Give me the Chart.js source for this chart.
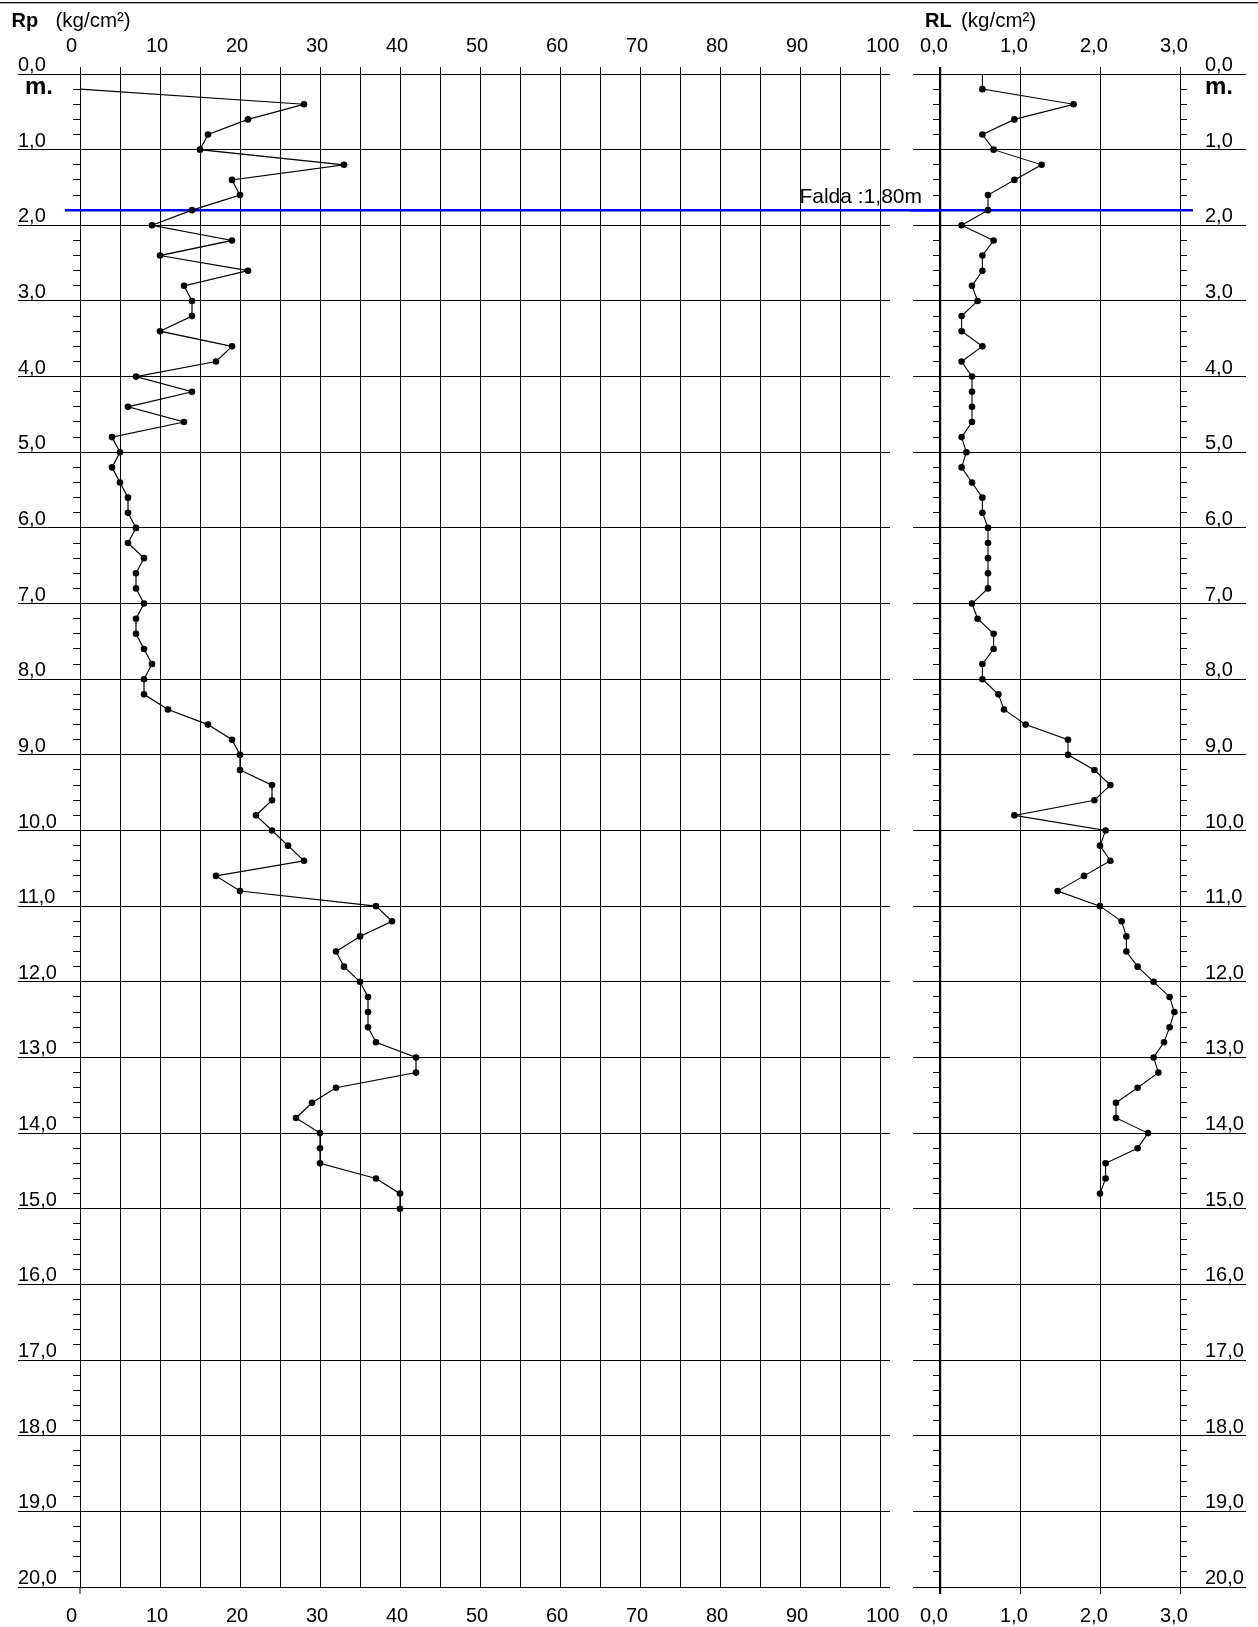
<!DOCTYPE html>
<html>
<head>
<meta charset="utf-8">
<title>Prueba de penetración – Rp / RL</title>
<script src="https://cdn.jsdelivr.net/npm/chart.js@4.4.1/dist/chart.umd.min.js"></script>
<style>
  html, body { margin: 0; padding: 0; background: #fff; }
  #wrap { position: relative; width: 1258px; height: 1627px; }
  canvas { position: absolute; left: 0; top: 0; }
</style>
</head>
<body>
<div id="wrap">
  <canvas id="rpChart" width="1258" height="1627"></canvas>
  <canvas id="rlChart" width="1258" height="1627"></canvas>
</div>
<script>
// Depths (m) of each reading
const rpDepth = [0.2, 0.4, 0.6, 0.8, 1.0, 1.2, 1.4, 1.6, 1.8, 2.0,
  2.2, 2.4, 2.6, 2.8, 3.0, 3.2, 3.4, 3.6, 3.8, 4.0,
  4.2, 4.4, 4.6, 4.8, 5.0, 5.2, 5.4, 5.6, 5.8, 6.0,
  6.2, 6.4, 6.6, 6.8, 7.0, 7.2, 7.4, 7.6, 7.8, 8.0,
  8.2, 8.4, 8.6, 8.8, 9.0, 9.2, 9.4, 9.6, 9.8, 10.0,
  10.2, 10.4, 10.6, 10.8, 11.0, 11.2, 11.4, 11.6, 11.8, 12.0,
  12.2, 12.4, 12.6, 12.8, 13.0, 13.2, 13.4, 13.6, 13.8, 14.0,
  14.2, 14.4, 14.6, 14.8, 15.0];

// Tip resistance Rp (kg/cm²)
const rpValues = [0, 28, 21, 16, 15, 33, 19, 20, 14, 9,
  19, 10, 21, 13, 14, 14, 10, 19, 17, 7,
  14, 6, 13, 4, 5, 4, 5, 6, 6, 7,
  6, 8, 7, 7, 8, 7, 7, 8, 9, 8,
  8, 11, 16, 19, 20, 20, 24, 24, 22, 24,
  26, 28, 17, 20, 37, 39, 35, 32, 33, 35,
  36, 36, 36, 37, 42, 42, 32, 29, 27, 30,
  30, 30, 37, 40, 40];

const rlDepth = [0.0, 0.2, 0.4, 0.6, 0.8, 1.0, 1.2, 1.4, 1.6, 1.8,
  2.0, 2.2, 2.4, 2.6, 2.8, 3.0, 3.2, 3.4, 3.6, 3.8,
  4.0, 4.2, 4.4, 4.6, 4.8, 5.0, 5.2, 5.4, 5.6, 5.8,
  6.0, 6.2, 6.4, 6.6, 6.8, 7.0, 7.2, 7.4, 7.6, 7.8,
  8.0, 8.2, 8.4, 8.6, 8.8, 9.0, 9.2, 9.4, 9.6, 9.8,
  10.0, 10.2, 10.4, 10.6, 10.8, 11.0, 11.2, 11.4, 11.6, 11.8,
  12.0, 12.2, 12.4, 12.6, 12.8, 13.0, 13.2, 13.4, 13.6, 13.8,
  14.0, 14.2, 14.4, 14.6, 14.8];

// Lateral (sleeve) friction RL (kg/cm²)
const rlValues = [0.53, 0.53, 1.67, 0.93, 0.53, 0.67, 1.27, 0.93, 0.60, 0.60,
  0.27, 0.67, 0.53, 0.53, 0.40, 0.47, 0.27, 0.27, 0.53, 0.27,
  0.40, 0.40, 0.40, 0.40, 0.27, 0.33, 0.27, 0.40, 0.53, 0.53,
  0.60, 0.60, 0.60, 0.60, 0.60, 0.40, 0.47, 0.67, 0.67, 0.53,
  0.53, 0.73, 0.80, 1.07, 1.60, 1.60, 1.93, 2.13, 1.93, 0.93,
  2.07, 2.00, 2.13, 1.80, 1.47, 2.00, 2.27, 2.33, 2.33, 2.47,
  2.67, 2.87, 2.93, 2.87, 2.80, 2.67, 2.73, 2.47, 2.20, 2.20,
  2.60, 2.47, 2.07, 2.07, 2.00];

// Axis tick labels
const rpTickLabels = ['0', '10', '20', '30', '40', '50', '60', '70', '80', '90', '100'];
const rlTickLabels = ['0,0', '1,0', '2,0', '3,0'];
const depthLabels = ['0,0', '1,0', '2,0', '3,0', '4,0', '5,0', '6,0', '7,0', '8,0', '9,0', '10,0',
  '11,0', '12,0', '13,0', '14,0', '15,0', '16,0', '17,0', '18,0', '19,0', '20,0'];

// Water table
const waterDepth = 1.8;
const waterLabel = 'Falda :1,80m';

const FONT = "'Liberation Sans', Arial, Helvetica, sans-serif";
Chart.defaults.font.family = FONT;
Chart.defaults.color = '#000';

const LINE = '#000';
const BLUE = '#0000ff';

function depthAxis(extra) {
  return Object.assign({
    type: 'linear', reverse: true, min: 0, max: 20,
    border: { display: false }
  }, extra);
}

function toPoints(xs, ys) {
  return xs.map((v, i) => ({ x: v, y: ys[i] }));
}

function markerSizes(n) {
  // first reading is drawn as the start of the trace, without a marker
  return Array.from({ length: n }, (_, i) => (i === 0 ? 0 : 3.3));
}

// ---------- Rp panel ----------
const rpDecor = {
  id: 'rpDecor',
  beforeDatasetsDraw(chart) {
    const { ctx, chartArea, scales } = chart;
    const y = scales.y.getPixelForValue(waterDepth);
    ctx.save();
    ctx.strokeStyle = BLUE;
    ctx.lineWidth = 2.5;
    ctx.beginPath();
    ctx.moveTo(scales.x.getPixelForValue(0) - 15, y);
    ctx.lineTo(chartArea.right + 60, y);
    ctx.stroke();
    ctx.fillStyle = '#000';
    ctx.font = '21px ' + FONT;
    ctx.textAlign = 'right';
    ctx.textBaseline = 'alphabetic';
    ctx.fillText(waterLabel, chartArea.right + 42, y - 7.5);
    ctx.restore();
  },
  afterDraw(chart) {
    const { ctx, chartArea, scales } = chart;
    const x0 = scales.x.getPixelForValue(0);
    ctx.save();
    ctx.fillStyle = '#000';
    // rule along the top of the sheet
    ctx.fillRect(0, 2, chart.width, 1.3);
    // depth axis runs a little past the bottom grid line
    ctx.fillRect(Math.round(x0) - 0.5, chartArea.bottom, 1, 7);
    ctx.textBaseline = 'alphabetic';
    ctx.textAlign = 'left';
    ctx.font = 'bold 20px ' + FONT;
    ctx.fillText('Rp', chartArea.left - 68.5, 26.7);
    ctx.font = '20.5px ' + FONT;
    ctx.fillText('(kg/cm²)', chartArea.left - 24.5, 26.7);
    ctx.font = 'bold 24px ' + FONT;
    ctx.fillText('m.', chartArea.left - 55, scales.y.getPixelForValue(0) + 20);
    ctx.restore();
  }
};

new Chart(document.getElementById('rpChart'), {
  type: 'scatter',
  data: {
    datasets: [{
      data: toPoints(rpValues, rpDepth),
      xAxisID: 'x', yAxisID: 'y',
      showLine: true,
      borderColor: LINE, borderWidth: 1.2,
      pointBackgroundColor: LINE, pointBorderWidth: 0,
      pointRadius: markerSizes(rpValues.length),
      tension: 0
    }]
  },
  options: {
    responsive: false,
    animation: false,
    events: [],
    layout: { padding: { left: 18, right: 368, top: 0, bottom: 0 } },
    plugins: { legend: { display: false }, tooltip: { enabled: false } },
    scales: {
      x: {
        type: 'linear', position: 'top', min: 0, max: 100,
        border: { display: false },
        grid: { color: LINE, lineWidth: 1, tickLength: 7 },
        ticks: {
          stepSize: 5, autoSkip: false, maxRotation: 0, align: 'start', labelOffset: -14, padding: 9,
          font: { size: 20 },
          callback: v => (v % 10 === 0 ? rpTickLabels[v / 10] : '')
        },
        afterFit: s => { s.height = 74; }
      },
      xb: {
        type: 'linear', position: 'bottom', min: 0, max: 100,
        border: { display: false },
        grid: { color: LINE, drawOnChartArea: false, drawTicks: false },
        ticks: {
          stepSize: 5, autoSkip: false, maxRotation: 0, align: 'start', labelOffset: -14, padding: 17,
          font: { size: 20 },
          callback: v => (v % 10 === 0 ? rpTickLabels[v / 10] : '')
        },
        afterFit: s => { s.height = 40; }
      },
      y: depthAxis({
        position: 'left', weight: 1,
        grid: { color: LINE, lineWidth: 1, tickLength: 62 },
        ticks: {
          stepSize: 1, autoSkip: false, crossAlign: 'far', labelOffset: -8.5,
          font: { size: 20 },
          callback: v => depthLabels[Math.round(v)]
        },
        afterFit: s => { s.width = 62; }
      }),
      yMinor: depthAxis({
        position: 'left', weight: 0,
        grid: { color: LINE, drawOnChartArea: false, tickLength: 7 },
        ticks: { stepSize: 0.2, autoSkip: false, display: false },
        afterFit: s => { s.width = 0; }
      }),
      yRight: depthAxis({
        position: 'right', weight: 0,
        grid: { color: LINE, drawOnChartArea: false, tickLength: 10 },
        ticks: { stepSize: 1, autoSkip: false, display: false },
        afterFit: s => { s.width = 10; }
      })
    }
  },
  plugins: [rpDecor]
});

// ---------- RL panel ----------
const rlDecor = {
  id: 'rlDecor',
  beforeDatasetsDraw(chart) {
    const { ctx, chartArea, scales } = chart;
    const y = scales.yL.getPixelForValue(waterDepth);
    ctx.save();
    ctx.strokeStyle = BLUE;
    ctx.lineWidth = 2.5;
    ctx.beginPath();
    ctx.moveTo(chartArea.left - 30, y);
    ctx.lineTo(scales.x.getPixelForValue(3) + 13, y);
    ctx.stroke();
    ctx.restore();
  },
  afterDraw(chart) {
    const { ctx, chartArea, scales } = chart;
    ctx.save();
    ctx.fillStyle = '#000';
    ctx.textBaseline = 'alphabetic';
    ctx.textAlign = 'left';
    ctx.font = 'bold 20px ' + FONT;
    ctx.fillText('RL', chartArea.left - 15, 26.7);
    ctx.font = '20.5px ' + FONT;
    ctx.fillText('(kg/cm²)', chartArea.left + 21, 26.7);
    ctx.font = 'bold 24px ' + FONT;
    ctx.fillText('m.', chartArea.right + 25, scales.yL.getPixelForValue(0) + 20);
    ctx.restore();
  }
};

const axisZeroWidth = c => (c.tick && c.tick.value === 0 ? 2.2 : 1);

new Chart(document.getElementById('rlChart'), {
  type: 'scatter',
  data: {
    datasets: [{
      data: toPoints(rlValues, rlDepth),
      xAxisID: 'x', yAxisID: 'yL',
      showLine: true,
      borderColor: LINE, borderWidth: 1.1,
      pointBackgroundColor: LINE, pointBorderWidth: 0,
      pointRadius: markerSizes(rlValues.length),
      tension: 0
    }]
  },
  options: {
    responsive: false,
    animation: false,
    events: [],
    layout: { padding: { left: 913, right: 12, top: 0, bottom: 0 } },
    plugins: { legend: { display: false }, tooltip: { enabled: false } },
    scales: {
      x: {
        type: 'linear', position: 'top', min: 0, max: 3,
        border: { display: false },
        grid: { color: LINE, lineWidth: axisZeroWidth, tickLength: 7 },
        ticks: {
          stepSize: 1, autoSkip: false, maxRotation: 0, align: 'start', labelOffset: -20, padding: 9,
          font: { size: 20 },
          callback: v => rlTickLabels[Math.round(v)]
        },
        afterFit: s => { s.height = 74; }
      },
      xb: {
        type: 'linear', position: 'bottom', min: 0, max: 3,
        border: { display: false },
        grid: { color: LINE, lineWidth: axisZeroWidth, drawOnChartArea: false, tickLength: 7 },
        ticks: {
          stepSize: 1, autoSkip: false, maxRotation: 0, align: 'start', labelOffset: -20, padding: 10,
          font: { size: 20 },
          callback: v => rlTickLabels[Math.round(v)]
        },
        afterFit: s => { s.height = 40; }
      },
      yL: depthAxis({
        position: 'left', weight: 1,
        grid: { color: LINE, lineWidth: 1, tickLength: 27 },
        ticks: { stepSize: 1, autoSkip: false, display: false },
        afterFit: s => { s.width = 27; }
      }),
      yLMinor: depthAxis({
        position: 'left', weight: 0,
        grid: { color: LINE, drawOnChartArea: false, tickLength: 7 },
        ticks: { stepSize: 0.2, autoSkip: false, display: false },
        afterFit: s => { s.width = 0; }
      }),
      yR: depthAxis({
        position: 'right', weight: 1,
        grid: { color: LINE, drawOnChartArea: false, tickLength: 66 },
        ticks: {
          stepSize: 1, autoSkip: false, crossAlign: 'near', padding: -41, labelOffset: -8.5,
          font: { size: 20 },
          callback: v => depthLabels[Math.round(v)]
        },
        afterFit: s => { s.width = 66; }
      }),
      yRMinor: depthAxis({
        position: 'right', weight: 0,
        grid: { color: LINE, drawOnChartArea: false, tickLength: 7 },
        ticks: { stepSize: 0.2, autoSkip: false, display: false },
        afterFit: s => { s.width = 0; }
      })
    }
  },
  plugins: [rlDecor]
});
</script>
</body>
</html>
